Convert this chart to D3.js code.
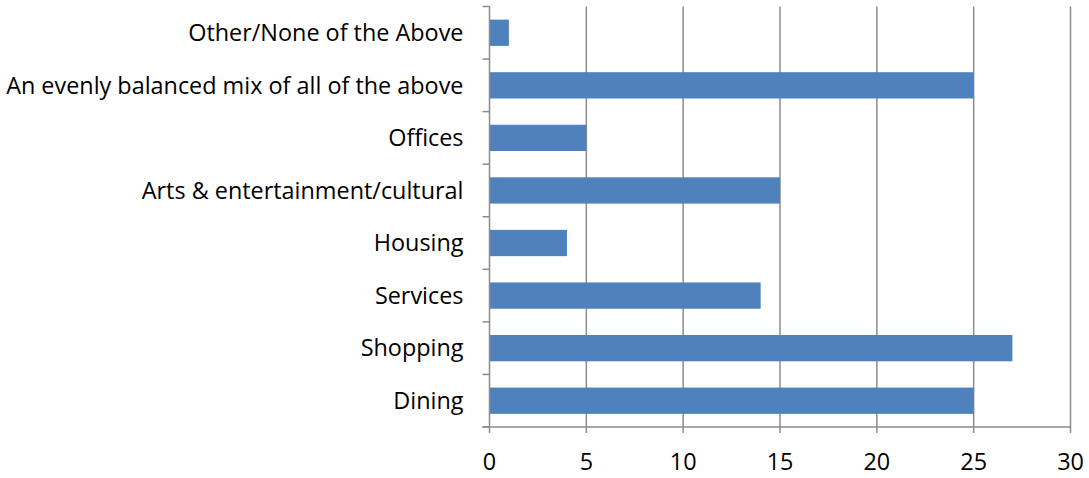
<!DOCTYPE html>
<html>
<head>
<meta charset="utf-8">
<script src="https://cdn.jsdelivr.net/npm/d3@7"></script>
<style>
body { margin: 0; background: #fff; }
text { font-family: "Open Sans", "Noto Sans", sans-serif; fill: #000; }
</style>
</head>
<body>
<svg id="chart" width="1089" height="478"></svg>
<script>
// categories top to bottom
var categories = ['Other/None of the Above', 'An evenly balanced mix of all of the above', 'Offices',
  'Arts & entertainment/cultural', 'Housing', 'Services', 'Shopping', 'Dining']
var values = [1, 25, 5, 15, 4, 14, 27, 25]
var xTicks = [0, 5, 10, 15, 20, 25, 30]

var margin = {left: 489.5, top: 6.5, right: 18.5, bottom: 51}
var width = 1089 - margin.left - margin.right
var height = 478 - margin.top - margin.bottom

var svg = d3.select('#chart')
var g = svg.append('g').attr('transform', 'translate(' + margin.left + ',' + margin.top + ')')

var x = d3.scaleLinear().domain([0, 30]).range([0, width])
var y = d3.scaleBand().domain(categories).range([0, height]).paddingInner(0.5).paddingOuter(0.25)

// gridlines
g.selectAll('line.grid')
  .data(xTicks.slice(1))
  .enter().append('line')
  .attr('class', 'grid')
  .attr('x1', function(d){return x(d)}).attr('x2', function(d){return x(d)})
  .attr('y1', 0).attr('y2', height)
  .attr('stroke', '#8c8c8c').attr('stroke-width', 1.5)

// bars
g.selectAll('rect.bar')
  .data(values)
  .enter().append('rect')
  .attr('class', 'bar')
  .attr('x', 0)
  .attr('y', function(d, i){return y(categories[i])})
  .attr('width', function(d){return x(d)})
  .attr('height', y.bandwidth())
  .attr('fill', '#4f81bd')

// y axis line + category ticks
var band = height / categories.length
g.append('line').attr('x1', 0).attr('x2', 0).attr('y1', 0).attr('y2', height)
  .attr('stroke', '#8c8c8c').attr('stroke-width', 1.5)
g.selectAll('line.ytick')
  .data(d3.range(categories.length + 1))
  .enter().append('line')
  .attr('x1', -7).attr('x2', 0)
  .attr('y1', function(d){return d * band}).attr('y2', function(d){return d * band})
  .attr('stroke', '#8c8c8c').attr('stroke-width', 1.5)

g.selectAll('text.ylab')
  .data(categories)
  .enter().append('text')
  .attr('x', -26)
  .attr('y', function(d){return y(d) + y.bandwidth() / 2})
  .attr('dy', '0.35em')
  .attr('text-anchor', 'end')
  .style('font-size', '23.4px')
  .text(function(d){return d})

// x axis
g.append('line').attr('x1', -7).attr('x2', width).attr('y1', height).attr('y2', height)
  .attr('stroke', '#8c8c8c').attr('stroke-width', 1.5)
g.selectAll('line.xtick')
  .data(xTicks)
  .enter().append('line')
  .attr('x1', function(d){return x(d)}).attr('x2', function(d){return x(d)})
  .attr('y1', height).attr('y2', height + 6)
  .attr('stroke', '#8c8c8c').attr('stroke-width', 1.5)
g.selectAll('text.xlab')
  .data(xTicks)
  .enter().append('text')
  .attr('x', function(d){return x(d)})
  .attr('y', height + 43)
  .attr('text-anchor', 'middle')
  .style('font-size', '23.4px')
  .text(function(d){return d})
</script>
</body>
</html>
